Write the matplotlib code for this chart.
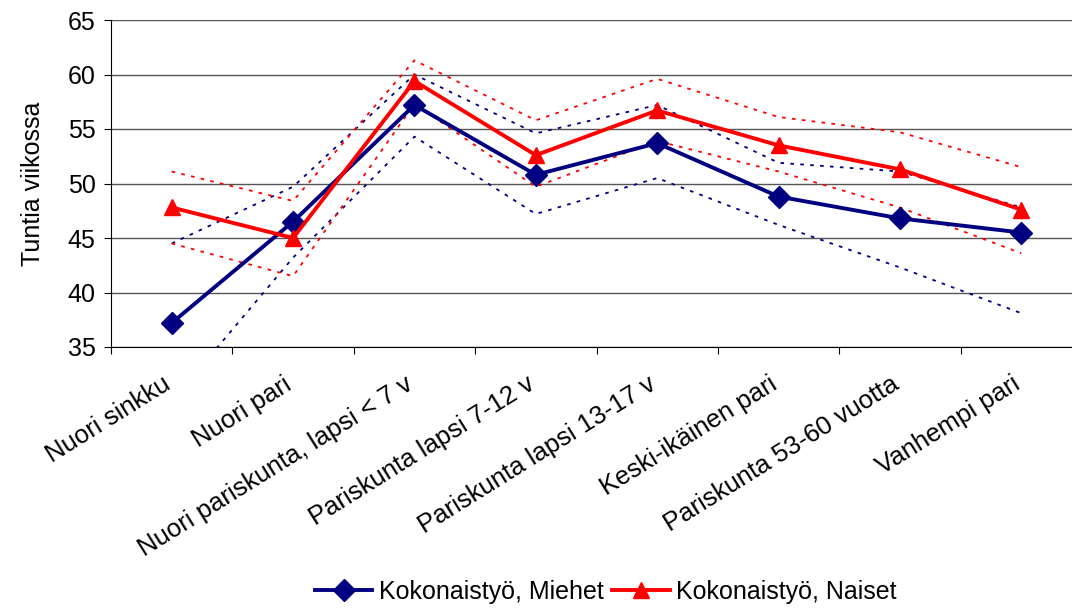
import matplotlib.pyplot as plt
import matplotlib.transforms as mtransforms
import numpy as np

plt.rcParams['font.family'] = ['Liberation Sans', 'DejaVu Sans']

# kategoriat
categories = ["Nuori sinkku", "Nuori pari", "Nuori pariskunta, lapsi < 7 v",
              "Pariskunta lapsi 7-12 v", "Pariskunta lapsi 13-17 v",
              "Keski-ikäinen pari", "Pariskunta 53-60 vuotta", "Vanhempi pari"]

# kokonaistyö, tuntia viikossa
miehet = [37.2, 46.5, 57.2, 50.8, 53.7, 48.8, 46.8, 45.5]
naiset = [47.8, 45.0, 59.4, 52.6, 56.7, 53.5, 51.3, 47.6]

# luottamusvälit (katkoviivat)
miehet_ylä = [44.5, 49.7, 60.0, 54.6, 57.2, 51.9, 51.1, 47.8]
miehet_ala = [30.0, 43.2, 54.3, 47.2, 50.5, 46.2, 42.3, 38.1]
naiset_ylä = [51.1, 48.4, 61.3, 55.8, 59.6, 56.1, 54.7, 51.5]
naiset_ala = [44.5, 41.5, 57.3, 49.7, 53.9, 51.1, 47.8, 43.6]

sininen = "#000080"
punainen = "#ff0000"

fig = plt.figure(figsize=(10.72, 6.11), dpi=100)
ax = fig.add_axes([111 / 1072, 1 - 347 / 611, (1082 - 111) / 1072, (347 - 20) / 611])

x = np.arange(len(categories))
dots = (0, (2, 3.5))

ax.plot(x, miehet_ylä, color=sininen, lw=1.3, ls=dots)
ax.plot(x, miehet_ala, color=sininen, lw=1.3, ls=dots)
ax.plot(x, naiset_ylä, color=punainen, lw=1.3, ls=dots)
ax.plot(x, naiset_ala, color=punainen, lw=1.3, ls=dots)

ax.plot(x, miehet, color=sininen, lw=2.8, marker="D", ms=11,
        label="Kokonaistyö, Miehet")
ax.plot(x, naiset, color=punainen, lw=2.8, marker="^", ms=11,
        label="Kokonaistyö, Naiset")

ax.set_xlim(-0.5, len(categories) - 0.5)
ax.set_ylim(35, 65)
ax.set_yticks(range(35, 66, 5))
ax.yaxis.grid(True, color="#555555", lw=1.0)
ax.set_axisbelow(True)

ax.set_xticks(np.arange(-0.5, len(categories), 1.0), minor=False)
ax.set_xticklabels([])
ax.set_xticks(x, minor=True)
ax.set_xticklabels(categories, minor=True, rotation=32, ha="right",
                   rotation_mode="anchor", fontsize=18.5)
ax.tick_params(axis="x", which="minor", length=0, pad=18)
ax.tick_params(axis="x", which="major", length=5, direction="out")
ax.tick_params(axis="y", labelsize=18, length=5, direction="out", pad=6)

# siirretään nimikkeitä hieman vasemmalle
siirto = mtransforms.ScaledTranslation(-10 / 100, 0, fig.dpi_scale_trans)
for lbl in ax.get_xticklabels(minor=True):
    lbl.set_transform(lbl.get_transform() + siirto)

for s in ["top", "right"]:
    ax.spines[s].set_visible(False)
ax.spines["left"].set_color("black")
ax.spines["bottom"].set_color("black")

ax.set_ylabel("Tuntia viikossa", fontsize=18, labelpad=16)

fig.legend(loc="lower center", bbox_to_anchor=(0.565, -0.025), ncol=2, frameon=False,
           fontsize=18, handlelength=2.3, columnspacing=0.35, handletextpad=0.25)

fig.savefig("out.png", dpi=100)
